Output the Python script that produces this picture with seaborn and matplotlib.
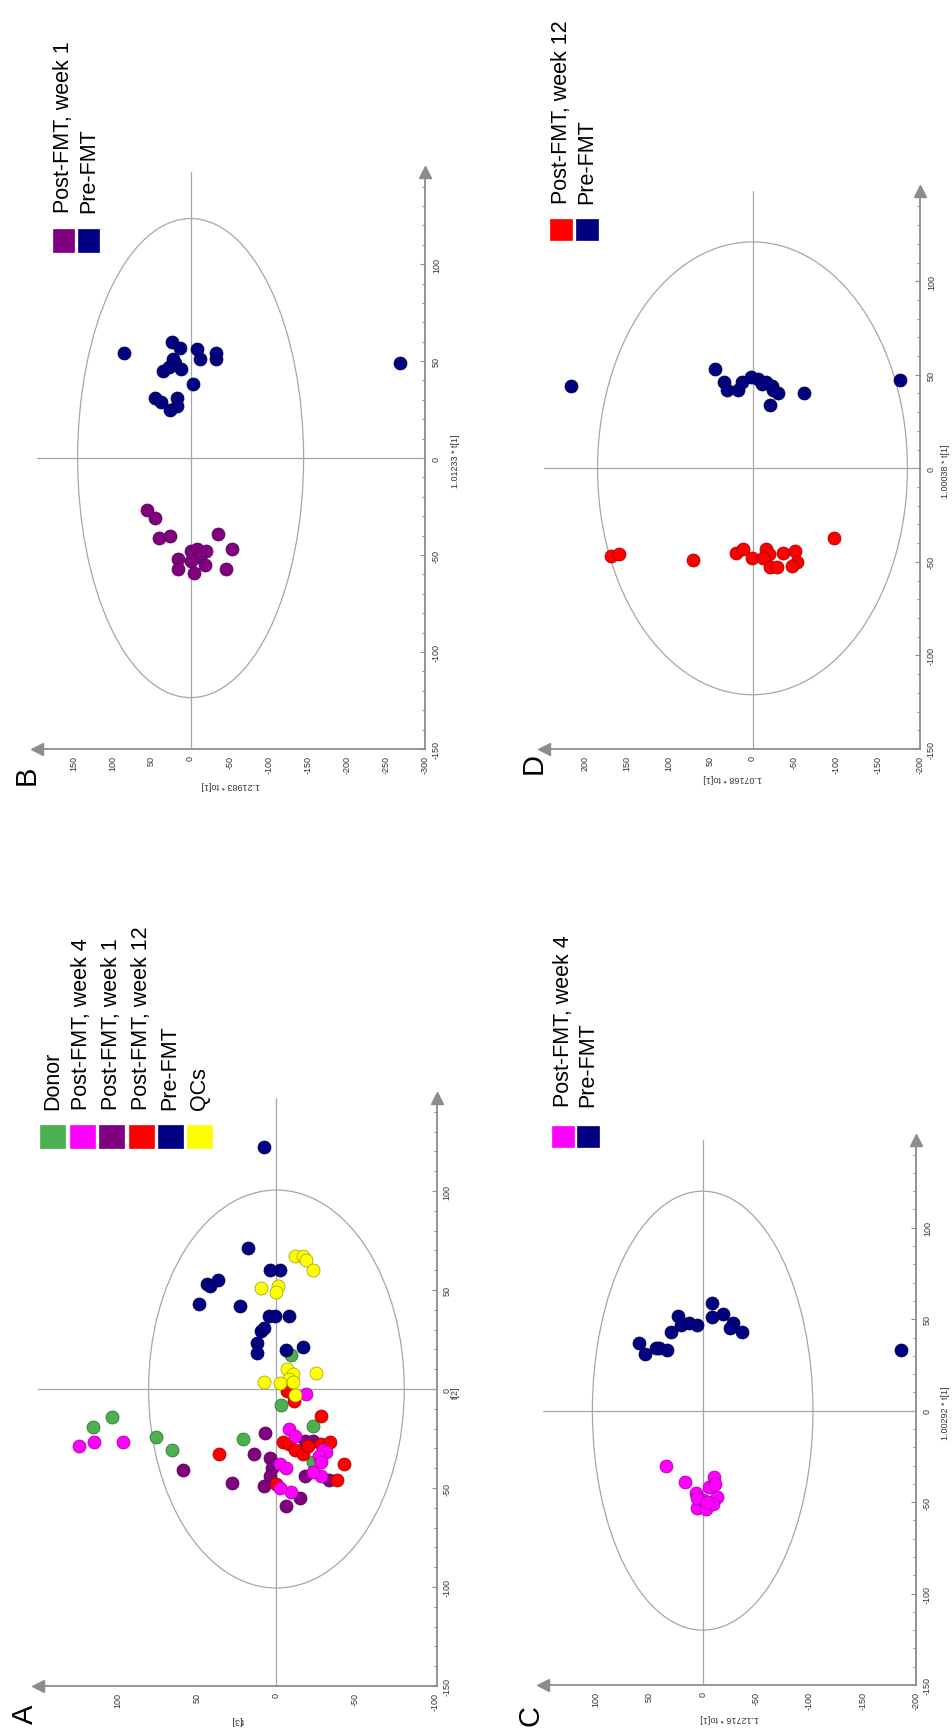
import numpy as np
import pandas as pd
import matplotlib
matplotlib.use("Agg")
import matplotlib.pyplot as plt
import seaborn as sns
from matplotlib.patches import Ellipse, Rectangle
from matplotlib.ticker import MultipleLocator, FuncFormatter
from matplotlib.colors import to_rgb

# ---------------- data ----------------
# Panel A : x = t[3], y = t[2]
a_donor_x = [104, 116, 76, 66, -9.5, -3, -23, 21, -23]
a_donor_y = [-14, -19, -24, -31, 17, -8, -18.5, -25, -37]
a_w4_x = [125, 115, 97, -19, -8, -12, -29.5, -31.5, -27, -28, -28, -23, -9, -2.5, -2, -6]
a_w4_y = [-29, -27, -27, -2.5, -20, -23.5, -31, -32, -34, -37, -44, -42, -52, -50, -38, -40]
a_w1_x = [59, 28, 14, 7, 4, 3, 4, 8, -18, -23, -33, -18, -15, -6]
a_w1_y = [-41, -47.5, -33, -22, -35, -40, -44, -49, -26, -26, -46, -44, -55, -59]
a_w12_x = [36, -7, -11, -28, -4, -8, -12, -17, -20, -28, -34, -43, -38, 0]
a_w12_y = [-33, -1, -6, -13.5, -27, -28, -31, -33, -29, -28, -27, -38, -46, -48]
a_pre_x = [8, 18, 49, 44, 42, 37, 23, -2, 4, 10, 12, 12, 8, 5, 1, -8, -6, -17]
a_pre_y = [122, 71, 43, 53, 52, 55, 42, 60, 60, 29.5, 23, 18, 31, 37, 37, 37, 19.5, 21]
a_qc_x = [10, -1, 0, -12, -17, -19, -23, -7, -10.5, -8, 8, -2, -10.5, -25, -12]
a_qc_y = [51, 52, 49, 67, 67, 65, 60, 10, 7.5, 5, 3.5, 3, 3.5, 8, -3]

# Panel B : x = to[1], y = t[1]
b_w1_x = [56, 46, 40, 27, 0, -8, -20, -35, -53, -12, 0, 16, 16, -18, -45, -4]
b_w1_y = [-27, -31, -41, -40, -48, -47, -48, -39, -47, -51, -53, -52, -57, -55, -57, -59]
b_pre_x = [85, 24, 13, -8, -12, -33, -32, 22, 20, 12, 35, 28, -3, 46, 38, 18, 17, 26, -268]
b_pre_y = [54, 60, 57, 56, 51, 51, 54, 51, 49, 46, 45, 47, 38, 31, 29, 31, 27, 25, 49]

# Panel C : x = to[1], y = t[1]
c_w4_x = [34, 17, 6, 5, -3, 0, -6, -11, -12, -13, -10, 5, -4]
c_w4_y = [-30, -39, -45, -53, -54, -49, -42, -36, -40, -47, -51, -48, -50]
c_pre_x = [60, 54, 44, 41, 33, 30, 23, 20, 13, 5, -9, -9, -19, -28, -26, -37, -186]
c_pre_y = [37, 31, 34, 34, 33, 43, 52, 47, 48, 47, 59, 51, 53, 48, 45, 43, 33]

# Panel D : x = to[1], y = t[1]
d_w12_x = [169, 160, 71, 20, 11, 1, -16, -20, -13, -21, -29, -37, -51, -53, -47, -97]
d_w12_y = [-47, -46, -49, -45, -43, -48, -43, -46, -48, -53, -53, -45, -44, -50, -52, -37]
d_pre_x = [217, 45, 34, 31, 17, 13, 2, -7, -11, -23, -25, -31, -21, -62, -176, -16]
d_pre_y = [44, 53, 46, 42, 42, 46, 49, 48, 45, 44, 42, 40, 34, 40, 47, 46]

groups_all = ["Donor", "Post-FMT, week 4", "Post-FMT, week 1",
              "Post-FMT, week 12", "Pre-FMT", "QCs"]
group_colors = ["#4caf50", "#ff00ff", "#800080", "#ff0000", "#000080", "#ffff00"]
palette = dict(zip(groups_all, group_colors))

# ---------------- style ----------------
sns.set_style("white")
plt.rcParams["font.family"] = ["Liberation Sans", "DejaVu Sans"]
plt.rcParams["axes.unicode_minus"] = False

W, H = 952, 1731
fig = plt.figure(figsize=(W / 100, H / 100), dpi=100)
AX_COL = "#8c8c8c"
LINE_COL = "#a6a6a6"
TXT_COL = "#333333"


def darker(c, f=0.6):
    r, g, b = to_rgb(c)
    return (r * f, g * f, b * f)


def panel(L, R, T, B, xlim, ylim, ell, pairs, xticks, yticks,
          xlab, ylab, xlab_y, ylab_x, letter, letter_xy, ytick_pad=5):
    ax = fig.add_axes([L / W, 1 - B / H, (R - L) / W, (B - T) / H])
    ax.set_facecolor("none")
    ax.set_xlim(*xlim)
    ax.set_ylim(*ylim)
    for s in ["top", "left"]:
        ax.spines[s].set_visible(False)
    for s in ["right", "bottom"]:
        ax.spines[s].set_color(AX_COL)
        ax.spines[s].set_linewidth(1.3)
    ax.axhline(0, color=LINE_COL, lw=0.9, zorder=1)
    ax.axvline(0, color=LINE_COL, lw=0.9, zorder=1)
    ax.add_patch(Ellipse((0, 0), 2 * ell[0], 2 * ell[1], fill=False,
                         ec=LINE_COL, lw=0.9, zorder=1))
    for g, xs, ys in pairs:
        df = pd.DataFrame({"x": xs, "y": ys})
        sns.scatterplot(data=df, x="x", y="y", color=palette[g], s=88,
                        edgecolor=darker(palette[g]), linewidth=0.5,
                        legend=False, ax=ax, zorder=3)
    ax.set_xlabel("")
    ax.set_ylabel("")
    ax.yaxis.tick_right()
    ax.set_xticks(xticks)
    ax.set_yticks(yticks)
    ax.xaxis.set_minor_locator(MultipleLocator(10))
    ax.yaxis.set_minor_locator(MultipleLocator(10))
    fmt = FuncFormatter(lambda v, p: "%d" % round(v))
    ax.xaxis.set_major_formatter(fmt)
    ax.yaxis.set_major_formatter(fmt)
    ax.tick_params(which="both", direction="in", color=AX_COL,
                   labelcolor=TXT_COL, labelsize=6.5)
    ax.tick_params(which="major", length=3.5, width=0.8)
    ax.tick_params(which="minor", length=2.5, width=0.7)
    ax.tick_params(axis="x", labelrotation=90, pad=4)
    ax.tick_params(axis="y", labelrotation=90, pad=ytick_pad)
    plt.setp(ax.get_yticklabels(), va="center")
    # arrow heads
    ax.plot([1], [1], marker="^", ms=8, color=AX_COL, transform=ax.transAxes,
            clip_on=False, zorder=5)
    ax.plot([0], [0], marker="<", ms=8, color=AX_COL, transform=ax.transAxes,
            clip_on=False, zorder=5)
    # axis titles
    fig.text(ylab_x / W, 1 - ((T + B) / 2) / H, ylab, rotation=90,
             ha="center", va="center", fontsize=6.5, color=TXT_COL)
    fig.text(((L + R) / 2) / W, 1 - xlab_y / H, xlab, rotation=180,
             ha="center", va="center", fontsize=6.5, color=TXT_COL)
    fig.text(letter_xy[0] / W, 1 - letter_xy[1] / H, letter, rotation=90,
             ha="center", va="center", fontsize=21, color="black")
    return ax


def legend(items, x0s, w, y_top, y_bot, text_bottom):
    for (lab, x0) in zip(items, x0s):
        fig.patches.append(Rectangle((x0 / W, 1 - y_bot / H), w / W,
                                     (y_bot - y_top) / H,
                                     transform=fig.transFigure,
                                     fc=palette[lab], ec=palette[lab], lw=0.5))
        fig.text((x0 + w / 2) / W, 1 - text_bottom / H, lab, rotation=90,
                 ha="center", va="bottom", fontsize=15.5, color="black")


# ---------------- panel B (top-left) ----------------
panel(36.7, 425, 173, 750, (197, -300), (-150, 147.5), (144.6, 123.5),
      [("Post-FMT, week 1", b_w1_x, b_w1_y), ("Pre-FMT", b_pre_x, b_pre_y)],
      list(range(-300, 151, 50)), list(range(-150, 101, 50)),
      "1.21983 * to[1]", "1.01233 * t[1]", 786, 456, "B", (27, 775))
legend(["Post-FMT, week 1", "Pre-FMT"], [53, 78], 21, 230, 253, 213)

# ---------------- panel D (top-right) ----------------
panel(544.3, 920, 192.4, 750, (248.6, -200), (-150, 148), (185, 121),
      [("Post-FMT, week 12", d_w12_x, d_w12_y), ("Pre-FMT", d_pre_x, d_pre_y)],
      list(range(-200, 201, 50)), list(range(-150, 101, 50)),
      "1.07168 * to[1]", "1.00038 * t[1]", 778, 946, "D", (534, 764))
legend(["Post-FMT, week 12", "Pre-FMT"], [550, 576], 22, 220, 241, 204)

# ---------------- panel A (bottom-left) ----------------
panel(38.3, 437, 1099, 1687, (150.5, -101.5), (-150, 147), (80.8, 100.5),
      [("Donor", a_donor_x, a_donor_y), ("Post-FMT, week 1", a_w1_x, a_w1_y),
       ("Post-FMT, week 12", a_w12_x, a_w12_y), ("Post-FMT, week 4", a_w4_x, a_w4_y),
       ("Pre-FMT", a_pre_x, a_pre_y), ("QCs", a_qc_x, a_qc_y)],
      list(range(-100, 101, 50)), list(range(-150, 101, 50)),
      "t[3]", "t[2]", 1721, 455, "A", (25, 1714), ytick_pad=4)
legend(groups_all, [40, 69.5, 99, 128.5, 157.5, 187], 25, 1126, 1149, 1110)

# ---------------- panel C (bottom-right) ----------------
panel(542.7, 916, 1141, 1686, (150, -200), (-150, 148), (103.4, 120),
      [("Post-FMT, week 4", c_w4_x, c_w4_y), ("Pre-FMT", c_pre_x, c_pre_y)],
      list(range(-200, 101, 50)), list(range(-150, 101, 50)),
      "1.12716 * to[1]", "1.00292 * t[1]", 1719, 945, "C", (531, 1716))
legend(["Post-FMT, week 4", "Pre-FMT"], [552, 577], 22, 1127, 1148, 1107)

fig.savefig("out.png", dpi=100)
